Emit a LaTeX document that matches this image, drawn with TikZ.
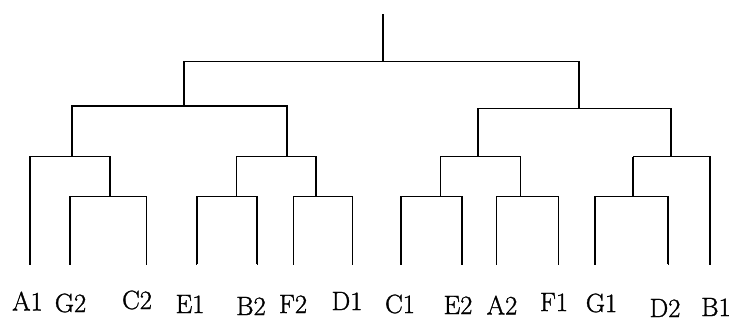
\documentclass[tikz,border=0pt]{standalone}
\usepackage{fontspec}
\newfontfamily\labfont{Latin Modern Roman}[FakeBold=1.2]
\begin{document}
\begin{tikzpicture}[x=1pt,y=-1pt,
  edge/.style={draw=black,line width=1.5pt,line cap=rect},
  heavy/.style={draw=black,line width=2.2pt},
  lab/.style={font=\labfont\fontsize{26.5}{30}\selectfont,inner sep=0pt,anchor=center}]
\useasboundingbox (0,0) rectangle (747,321);
% leaf ends
\coordinate (lA1) at (30,264);
\coordinate (lG2) at (70,264);
\coordinate (lC2) at (146.7,264);
\coordinate (lE1) at (196.7,264);
\coordinate (lB2) at (257.3,264);
\coordinate (lF2) at (293.3,264);
\coordinate (lD1) at (352.7,264);
\coordinate (lC1) at (401,264);
\coordinate (lE2) at (462,264);
\coordinate (lA2) at (496.7,264);
\coordinate (lF1) at (558.3,264);
\coordinate (lG1) at (595,264);
\coordinate (lD2) at (668.3,264);
\coordinate (lB1) at (710,264);
% merge points
\coordinate (m1) at (110,196.7);
\coordinate (m2) at (72,156.7);
\coordinate (m3) at (236.7,196.7);
\coordinate (m4) at (316,196.7);
\coordinate (m5) at (287,156.7);
\coordinate (m6) at (184,106);
\coordinate (m7) at (440.7,196.7);
\coordinate (m8) at (520.7,196.7);
\coordinate (m9) at (478.3,156.7);
\coordinate (m10) at (633.3,196.7);
\coordinate (m11) at (671,156.7);
\coordinate (m12) at (579,108.3);
\coordinate (root) at (382.7,61.7);
\coordinate (top) at (382.7,14);
% tree
\draw[edge] (lG2) |- (m1) -| (lC2);
\draw[edge] (lA1) |- (m2) -| (m1);
\draw[edge] (lE1) |- (m3) -| (lB2);
\draw[edge] (lF2) |- (m4) -| (lD1);
\draw[edge] (m3) |- (m5) -| (m4);
\draw[edge] (m2) |- (m6) -| (m5);
\draw[edge] (lC1) |- (m7) -| (lE2);
\draw[edge] (lA2) |- (m8) -| (lF1);
\draw[edge] (m7) |- (m9) -| (m8);
\draw[edge] (lG1) |- (m10) -| (lD2);
\draw[edge] (m10) |- (m11) -| (lB1);
\draw[edge] (m9) |- (m12) -| (m11);
\draw[edge] (m6) |- (root) -| (m12);
\draw[heavy] (root) -- (top);
\draw[heavy] (lB2) -- (m3 -| lB2);
\draw[heavy] (lE1) -- (m3 -| lE1);
\draw[heavy] (lG1) -- (m10 -| lG1);
\draw[heavy] (lD2) -- (m10 -| lD2);
\draw[heavy] (m9) -- (m12 -| m9);
\draw[heavy] (m10) -- (m11 -| m10);
\draw[heavy] (m2 |- m6) -- (m5 |- m6);
% labels
\node[lab] (tA1) at (27.5,301) {A1};
\node[lab] (tG2) at (70.5,303) {G2};
\node[lab] (tC2) at (137,300) {C2};
\node[lab] (tE1) at (190,304) {E1};
\node[lab] (tB2) at (251,306) {B2};
\node[lab] (tF2) at (293,304) {F2};
\node[lab] (tD1) at (347,301) {D1};
\node[lab] (tC1) at (400,304) {C1};
\node[lab] (tE2) at (458,305) {E2};
\node[lab] (tA2) at (502,305) {A2};
\node[lab] (tF1) at (554,302) {F1};
\node[lab] (tG1) at (601.5,303) {G1};
\node[lab] (tD2) at (665,308) {D2};
\node[lab] (tB1) at (716,307) {B1};
\end{tikzpicture}
\end{document}
